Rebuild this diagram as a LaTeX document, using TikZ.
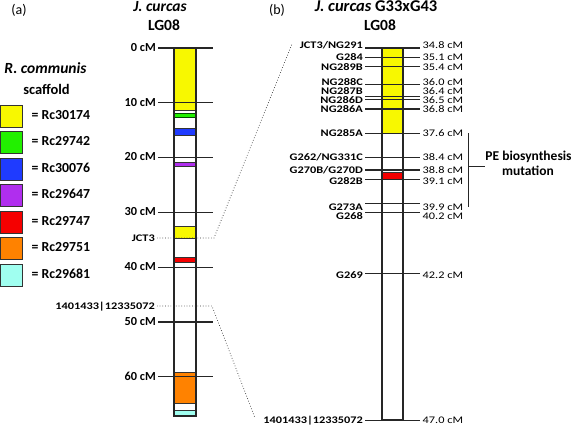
\documentclass[tikz,border=0pt]{standalone}
\usepackage{fontspec}
\setmainfont{Carlito}
\newfontfamily\widefont{Carlito}[FakeStretch=1.22]
\definecolor{cyel}{HTML}{F8F800}
\definecolor{cgrn}{HTML}{22F000}
\definecolor{cblu}{HTML}{1F3BFF}
\definecolor{cpur}{HTML}{B02EEE}
\definecolor{cred}{HTML}{F50000}
\definecolor{corg}{HTML}{FF8200}
\definecolor{ccya}{HTML}{A0FFF0}
\begin{document}
\begin{tikzpicture}[x=1pt,y=-1pt,
  txt/.style={inner sep=0pt, text height=0.644em, text depth=0pt},
  lab/.style={txt, font=\bfseries\fontsize{12.3}{12}\selectfont},
  slab/.style={txt, font=\widefont\bfseries\fontsize{10.1}{10}\selectfont},
  rlab/.style={txt, font=\widefont\fontsize{10.1}{10}\selectfont},
  ttl/.style={txt, font=\bfseries\fontsize{15.5}{15}\selectfont},
  band/.style={draw=black!80, line width=0.5pt},
  chrom/.style={draw=black!85, line width=1.2pt},
  tick/.style={draw=black!85, line width=1.2pt},
  dots/.style={dotted, line width=0.7pt, black!80},
  legbox/.style={draw=black!80, line width=0.8pt}]
\useasboundingbox (0,0) rectangle (572,426);

% titles
\node[font=\fontsize{14}{14}\selectfont, inner sep=0pt] (pa) at (19,10) {(a)};
\node[font=\fontsize{14}{14}\selectfont, inner sep=0pt] (pb) at (277,10) {(b)};
\node[ttl] (ta1) at (160,8.5) {\itshape J. curcas};
\node[ttl] (ta2) at (164,27) {LG08};
\node[ttl, font=\bfseries\fontsize{16.5}{16}\selectfont] (tb1) at (376,8.5) {\itshape J. curcas\/ \upshape G33xG43};
\node[ttl] (tb2) at (380,27) {LG08};

% legend
\node[ttl] (lg1) at (45.5,70) {\itshape R. communis};
\node[ttl, font=\bfseries\fontsize{14.5}{15}\selectfont] (lg2) at (46.5,91) {scaffold};
\foreach \c/\t [count=\i from 0] in {cyel/Rc30174,cgrn/Rc29742,cblu/Rc30076,cpur/Rc29647,cred/Rc29747,corg/Rc29751,ccya/Rc29681}{
  \pgfmathsetmacro{\yy}{105+26.5*\i}
  \fill[\c, legbox] (0.5,\yy) rectangle (22,\yy+22);
  \node[lab, anchor=west, font=\bfseries\fontsize{13.8}{13}\selectfont] (leg\i) at (31.5,\yy+11) {= \t};
}

% chromosome (a)
\fill[cyel, band] (174,48) rectangle (196,110);
\fill[cgrn, band, draw=black!70!green] (174,113) rectangle (196,117);
\fill[cblu, band] (174,128) rectangle (196,135);
\fill[cpur, band] (174,162) rectangle (196,166);
\fill[cyel, band] (174,226) rectangle (196,238);
\fill[cred, band] (174,257) rectangle (196,262);
\fill[corg, band] (174,372) rectangle (196,403);
\fill[ccya, band] (174,410) rectangle (196,416);
\draw[chrom] (174,48) rectangle (196,416);

\foreach \v in {0,10,20,30,40,50,60}{
  \pgfmathsetmacro{\yy}{48+5.48*\v}
  \coordinate (al\v) at (158,\yy);
  \coordinate (ar\v) at (213,\yy);
  \draw[tick] (al\v) -- (ar\v);
  \node[lab, anchor=east] (an\v) at (156,\yy) {\v{} cM};
}
\node[slab, anchor=east] (ajct) at (155,238) {JCT3};
\node[slab, anchor=east] (amk) at (155,306) {1401433|12335072};
\coordinate (jl) at (157,238);
\coordinate (jr) at (214,238);
\coordinate (ml) at (157,306);
\coordinate (mr) at (212,306);

% chromosome (b)
\fill[cyel, band] (382,48) rectangle (403,133.4);
\fill[cred, band] (382,172) rectangle (403,179);
\draw[chrom] (382,48) rectangle (403,420);

\foreach \cm/\ly/\ln [count=\i] in {
  34.8/45/JCT3\slash NG291, 35.1/57/G284\ , 35.4/67/NG289B\ ,
  36.0/82.5/NG288C\ , 36.4/91.7/NG287B\ , 36.5/100.5/NG286D\ , 36.8/109.5/NG286A\ ,
  37.6/133/NG285A, 38.4/157/G262\slash NG331C, 38.8/170/G270B\slash G270D,
  39.1/181/G282B, 39.9/207/G273A, 40.2/216/G268, 42.2/275/G269,
  47.0/420/1401433|12335072}{
  \pgfmathsetmacro{\yy}{48+(\cm-34.8)*30.5}
  \coordinate (bl\i) at (365,\yy);
  \coordinate (br\i) at (420,\yy);
  \draw[tick] (bl\i) -- (br\i);
  \node[slab, anchor=east] (bn\i) at (363,\ly) {\ln};
  \node[rlab, anchor=west] (bc\i) at (422.5,\ly) {\cm{} cM};
}

% zoom connectors
\coordinate (btop) at (292,44);
\coordinate (bbot) at (255,418);
\draw[dots] (jl) -- (jr) -- (btop);
\draw[dots] (ml) -- (mr) -- (bbot);

% PE bracket
\coordinate (pt) at (468,133);
\coordinate (pbm) at (468,207);
\coordinate (pm) at (468,166);
\coordinate (pr) at (485,166);
\draw[tick, line width=0.9pt] (pt) -- (pbm);
\draw[tick, line width=0.9pt] (pm) -- (pr);
\node[lab, font=\bfseries\fontsize{13.5}{13}\selectfont] (pe1) at (528.5,157) {PE biosynthesis};
\node[lab, font=\bfseries\fontsize{13.5}{13}\selectfont] (pe2) at (528,172) {mutation};
\end{tikzpicture}
\end{document}
